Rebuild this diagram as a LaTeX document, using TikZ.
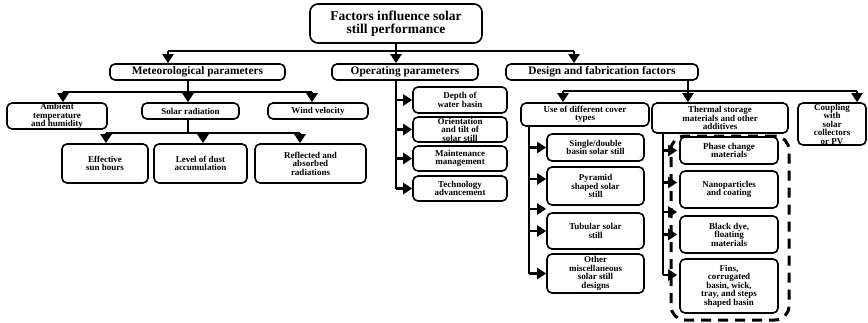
\documentclass[tikz,border=0pt]{standalone}
\usepackage{fontspec}
\setmainfont{Liberation Serif}
\usetikzlibrary{calc,arrows.meta}

\begin{document}
\begin{tikzpicture}[
  x=1pt,y=-1pt,
  >={Triangle[width=11pt,length=9pt]},
  box/.style={draw=black, line width=1.6pt, rounded corners=5pt, align=center, inner sep=0pt, font={\bfseries\fontsize{9}{8.5}\selectfont}},
  head/.style={box, font={\bfseries\fontsize{11.4}{12}\selectfont}},
  bus/.style={line width=2.6pt, draw=black},
  arr/.style={bus, ->},
  grpbox/.style={draw=black, line width=3pt, dash pattern=on 10pt off 7pt, rounded corners=14pt, minimum width=118, minimum height=184}
]
\useasboundingbox (0,0) rectangle (868,322);

% Root and first level
\node[box, rounded corners=8pt, font={\bfseries\fontsize{13.5}{13}\selectfont}, minimum width=172, minimum height=39] (title) at (396,23.5) {Factors influence solar\\still performance};
\node[head, minimum width=175, minimum height=16] (met) at (197.5,72) {Meteorological parameters};
\node[head, minimum width=146, minimum height=16] (oper) at (405,72) {Operating parameters};
\node[head, minimum width=192, minimum height=16] (design) at (602,72) {Design and fabrication factors};

% Meteorological branch
\node[box, minimum width=100, minimum height=26] (amb) at (57,116) {Ambient\\temperature\\and humidity};
\node[box, minimum width=97, minimum height=16] (solar) at (190.5,111) {Solar radiation};
\node[box, minimum width=100, minimum height=16] (wind) at (318,111) {Wind velocity};
\node[box, minimum width=86, minimum height=39] (eff) at (105,163.5) {Effective\\sun hours};
\node[box, minimum width=93, minimum height=39] (dust) at (200.5,163.5) {Level of dust\\accumulation};
\node[box, minimum width=111, minimum height=39] (refl) at (310.5,163.5) {Reflected and\\absorbed\\radiations};

% Operating branch
\node[box, minimum width=94, minimum height=26] (depth) at (460,100) {Depth of\\water basin};
\node[box, minimum width=94, minimum height=25] (orient) at (460,129.5) {Orientation\\and tilt of\\solar still};
\node[box, minimum width=94, minimum height=25] (maint) at (460,158.5) {Maintenance\\management};
\node[box, minimum width=94, minimum height=25] (tech) at (460,188.5) {Technology\\advancement};

% Design branch
\node[box, minimum width=128, minimum height=23] (cover) at (585,114.5) {Use of different cover\\types};
\node[box, minimum width=136, minimum height=30] (therm) at (720,118) {Thermal storage\\materials and other\\additives};
\node[box, minimum width=68, minimum height=42] (coup) at (832,124) {Coupling\\with\\solar\\collectors\\or PV};

\node[box, minimum width=97, minimum height=27] (single) at (595.5,147.5) {Single/double\\basin solar still};
\node[box, minimum width=97, minimum height=38] (pyr) at (595.5,186) {Pyramid\\shaped solar\\still};
\node[box, minimum width=97, minimum height=36] (tub) at (595.5,231) {Tubular solar\\still};
\node[box, minimum width=97, minimum height=39] (other) at (595.5,273.5) {Other\\miscellaneous\\solar still\\designs};

\node[grpbox] (grp) at (730,228) {};
\node[box, minimum width=98, minimum height=27] (phase) at (729,150.5) {Phase change\\materials};
\node[box, minimum width=98, minimum height=37] (nano) at (729,189.5) {Nanoparticles\\and coating};
\node[box, minimum width=98, minimum height=37] (black) at (729,234.5) {Black dye,\\floating\\materials};
\node[box, minimum width=98, minimum height=54] (fins) at (729,286) {Fins,\\corrugated\\basin, wick,\\tray, and steps\\shaped basin};

% Bus coordinates
\coordinate (tl) at (168,51);
\coordinate (tm) at (396,51);
\coordinate (tr) at (574,51);
\coordinate (ml) at (63,92);
\coordinate (mm) at (188,92);
\coordinate (mr) at (312,92);
\coordinate (sl) at (106,133);
\coordinate (sm) at (203,133);
\coordinate (sr) at (300,133);
\coordinate (sv) at (188,133);
\coordinate (ov) at (396,188.5);
\coordinate (dl) at (563,91);
\coordinate (dm) at (688,91);
\coordinate (dr) at (857,91);
\coordinate (cv) at (529,273.5);
\coordinate (tv) at (663,275);

% Arrow ends on the side columns
\coordinate (pyrin) at ([yshift=7pt]pyr.west);
\coordinate (cgap) at ($(pyr.south west)!0.5!(tub.north west)$);
\coordinate (phasein) at ([xshift=-2pt]phase.west);
\coordinate (nanoin) at ([shift={(-2pt,7pt)}]nano.west);
\coordinate (tgap) at ($(nano.south west)!0.5!(black.north west)+(-2,0)$);
\coordinate (blackin) at ([xshift=-2pt]black.west);
\coordinate (finsin) at ([shift={(-2pt,11pt)}]fins.west);

% Top level
\draw[bus] (title.south) -- (tm);
\draw[bus] (tl) -- (tr);
\draw[arr] (tl) -- (tl |- met.north);
\draw[arr] (tm) -- (tm |- oper.north);
\draw[arr] (tr) -- (tr |- design.north);

% Meteorological connectors
\draw[bus] (mm |- met.south) -- (mm);
\draw[bus] (ml) -- (mr);
\draw[arr] (ml) -- (ml |- amb.north);
\draw[arr] (mm) -- (mm |- solar.north);
\draw[arr] (mr) -- (mr |- wind.north);
\draw[bus] (sv |- solar.south) -- (sv);
\draw[bus] (sl) -- (sr);
\draw[arr] (sl) -- (sl |- eff.north);
\draw[arr] (sm) -- (sm |- dust.north);
\draw[arr] (sr) -- (sr |- refl.north);

% Operating connectors
\draw[bus] (ov |- oper.south) -- (ov);
\draw[arr] (ov |- depth.west) -- (depth.west);
\draw[arr] (ov |- orient.west) -- (orient.west);
\draw[arr] (ov |- maint.west) -- (maint.west);
\draw[arr] (ov |- tech.west) -- (tech.west);

% Design connectors
\draw[bus] (dm |- design.south) -- (dm);
\draw[bus] (dl) -- (dr);
\draw[arr] (dl) -- (dl |- cover.north);
\draw[arr] (dm) -- (dm |- therm.north);
\draw[arr] (dr) -- (dr |- coup.north);

\draw[bus] (cv |- cover.south) -- (cv);
\draw[arr] (cv |- single.west) -- (single.west);
\draw[arr] (cv |- pyrin) -- (pyrin);
\draw[arr] (cv |- cgap) -- (cgap);
\draw[arr] (cv |- tub.west) -- (tub.west);
\draw[arr] (cv |- other.west) -- (other.west);

\draw[bus] (tv |- therm.south) -- (tv);
\draw[arr] (tv |- phasein) -- (phasein);
\draw[arr] (tv |- nanoin) -- (nanoin);
\draw[arr] (tv |- tgap) -- (tgap);
\draw[arr] (tv |- blackin) -- (blackin);
\draw[arr] (tv |- finsin) -- (finsin);

\end{tikzpicture}
\end{document}
